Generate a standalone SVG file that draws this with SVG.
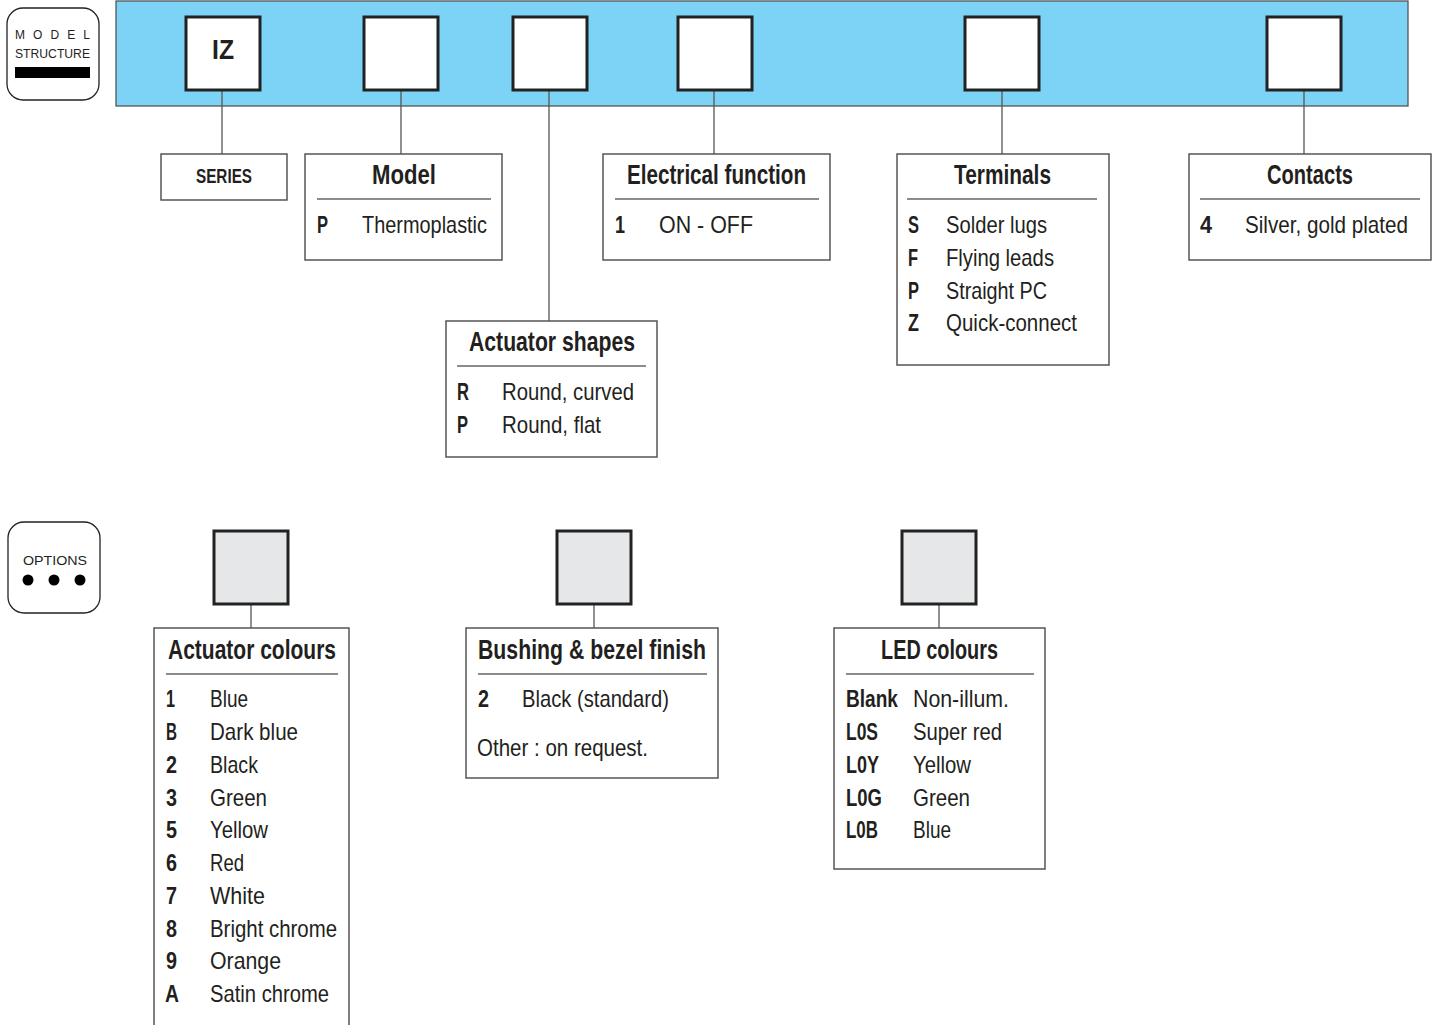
<svg xmlns="http://www.w3.org/2000/svg" width="1439" height="1025" viewBox="0 0 1439 1025">
<style>
.box{fill:#fff;stroke:#555;stroke-width:1.5}
.code{fill:#fff;stroke:#222;stroke-width:3}
.opt{fill:#e6e7e8;stroke:#222;stroke-width:3}
.conn{stroke:#555;stroke-width:1.3;fill:none}
.sep{stroke:#666;stroke-width:1.3}
.badge{fill:#fff;stroke:#222;stroke-width:1.3}
text{font-family:"Liberation Sans",Arial,sans-serif;fill:#231f20}
.h{font-size:27px;font-weight:bold;text-anchor:middle}
.k{font-size:23px;font-weight:bold}
.v{font-size:24px}
</style>
<rect width="1439" height="1025" fill="#fff"/>
<g id="badge-model">
<rect class="badge" x="7" y="8" width="92" height="92" rx="16"/>
<text x="15" y="39" font-size="12" textLength="75" lengthAdjust="spacing">MODEL</text>
<text x="15" y="58" font-size="13" textLength="75" lengthAdjust="spacingAndGlyphs">STRUCTURE</text>
<rect x="15" y="67" width="75" height="11" fill="#000"/>
</g>
<g id="band">
<rect x="116" y="1" width="1292" height="105" fill="#7dd3f5" stroke="#555" stroke-width="1.3"/>
</g>
<g id="connectors">
<line class="conn" x1="222" y1="90" x2="222" y2="154"/>
<line class="conn" x1="401" y1="90" x2="401" y2="154"/>
<line class="conn" x1="549" y1="90" x2="549" y2="321"/>
<line class="conn" x1="714" y1="90" x2="714" y2="154"/>
<line class="conn" x1="1002" y1="90" x2="1002" y2="154"/>
<line class="conn" x1="1304" y1="90" x2="1304" y2="154"/>
<line class="conn" x1="251" y1="604" x2="251" y2="628"/>
<line class="conn" x1="594" y1="604" x2="594" y2="628"/>
<line class="conn" x1="939" y1="604" x2="939" y2="628"/>
</g>
<g id="slot-iz"><rect class="code" x="186" y="17" width="74" height="73"/><text x="223" y="59" font-size="28" font-weight="bold" text-anchor="middle" textLength="22" lengthAdjust="spacingAndGlyphs">IZ</text></g>
<g id="slot-2"><rect class="code" x="364" y="17" width="74" height="73"/></g>
<g id="slot-3"><rect class="code" x="513" y="17" width="74" height="73"/></g>
<g id="slot-4"><rect class="code" x="678" y="17" width="74" height="73"/></g>
<g id="slot-5"><rect class="code" x="965" y="17" width="74" height="73"/></g>
<g id="slot-6"><rect class="code" x="1267" y="17" width="74" height="73"/></g>

<g id="series"><rect class="box" x="161" y="154" width="126" height="46"/><text x="224" y="183" font-size="21" font-weight="bold" text-anchor="middle" textLength="56" lengthAdjust="spacingAndGlyphs">SERIES</text></g>

<g id="model"><rect class="box" x="305" y="154" width="197" height="106"/>
<text class="h" x="404" y="184" textLength="64" lengthAdjust="spacingAndGlyphs">Model</text><line class="sep" x1="317" y1="199" x2="491" y2="199"/>
<text class="k" x="317" y="233" textLength="11" lengthAdjust="spacingAndGlyphs">P</text><text class="v" x="362" y="233" textLength="125" lengthAdjust="spacingAndGlyphs">Thermoplastic</text></g>

<g id="electrical"><rect class="box" x="603" y="154" width="227" height="106"/>
<text class="h" x="716.5" y="184" textLength="179" lengthAdjust="spacingAndGlyphs">Electrical function</text><line class="sep" x1="615" y1="199" x2="819" y2="199"/>
<text class="k" x="615" y="233" textLength="10" lengthAdjust="spacingAndGlyphs">1</text><text class="v" x="659" y="233" textLength="94" lengthAdjust="spacingAndGlyphs">ON - OFF</text></g>

<g id="terminals"><rect class="box" x="897" y="154" width="212" height="211"/>
<text class="h" x="1002.5" y="184" textLength="97" lengthAdjust="spacingAndGlyphs">Terminals</text><line class="sep" x1="907" y1="199" x2="1097" y2="199"/>
<text class="k" x="908" y="233" textLength="11" lengthAdjust="spacingAndGlyphs">S</text><text class="v" x="946" y="233" textLength="101" lengthAdjust="spacingAndGlyphs">Solder lugs</text>
<text class="k" x="908" y="266" textLength="10" lengthAdjust="spacingAndGlyphs">F</text><text class="v" x="946" y="266" textLength="108" lengthAdjust="spacingAndGlyphs">Flying leads</text>
<text class="k" x="908" y="299" textLength="11" lengthAdjust="spacingAndGlyphs">P</text><text class="v" x="946" y="299" textLength="101" lengthAdjust="spacingAndGlyphs">Straight PC</text>
<text class="k" x="908" y="331" textLength="11" lengthAdjust="spacingAndGlyphs">Z</text><text class="v" x="946" y="331" textLength="131" lengthAdjust="spacingAndGlyphs">Quick-connect</text></g>

<g id="contacts"><rect class="box" x="1189" y="154" width="242" height="106"/>
<text class="h" x="1310" y="184" textLength="86" lengthAdjust="spacingAndGlyphs">Contacts</text><line class="sep" x1="1200" y1="199" x2="1420" y2="199"/>
<text class="k" x="1200" y="233" textLength="12" lengthAdjust="spacingAndGlyphs">4</text><text class="v" x="1245" y="233" textLength="163" lengthAdjust="spacingAndGlyphs">Silver, gold plated</text></g>

<g id="actuator-shapes"><rect class="box" x="446" y="321" width="211" height="136"/>
<text class="h" x="552" y="351" textLength="166" lengthAdjust="spacingAndGlyphs">Actuator shapes</text><line class="sep" x1="457" y1="366" x2="646" y2="366"/>
<text class="k" x="457" y="400" textLength="12" lengthAdjust="spacingAndGlyphs">R</text><text class="v" x="502" y="400" textLength="132" lengthAdjust="spacingAndGlyphs">Round, curved</text>
<text class="k" x="457" y="433" textLength="11" lengthAdjust="spacingAndGlyphs">P</text><text class="v" x="502" y="433" textLength="99" lengthAdjust="spacingAndGlyphs">Round, flat</text></g>

<g id="badge-options">
<rect class="badge" x="8" y="522" width="92" height="91" rx="16"/>
<text x="23" y="565" font-size="13.5" textLength="64" lengthAdjust="spacingAndGlyphs">OPTIONS</text>
<circle cx="28" cy="580" r="5.5" fill="#000"/><circle cx="54" cy="580" r="5.5" fill="#000"/><circle cx="80" cy="580" r="5.5" fill="#000"/>
</g>
<g id="opt-1"><rect class="opt" x="214" y="531" width="74" height="73"/></g>
<g id="opt-2"><rect class="opt" x="557" y="531" width="74" height="73"/></g>
<g id="opt-3"><rect class="opt" x="902" y="531" width="74" height="73"/></g>

<g id="actuator-colours">
<path class="box" d="M154 1026 V628 H349 V1026"/>
<text class="h" x="252" y="659" textLength="168" lengthAdjust="spacingAndGlyphs">Actuator colours</text><line class="sep" x1="166" y1="674" x2="338" y2="674"/>
<text class="k" x="166" y="707" textLength="9" lengthAdjust="spacingAndGlyphs">1</text><text class="v" x="210" y="707" textLength="38" lengthAdjust="spacingAndGlyphs">Blue</text>
<text class="k" x="166" y="740" textLength="11" lengthAdjust="spacingAndGlyphs">B</text><text class="v" x="210" y="740" textLength="88" lengthAdjust="spacingAndGlyphs">Dark blue</text>
<text class="k" x="166" y="773" textLength="11" lengthAdjust="spacingAndGlyphs">2</text><text class="v" x="210" y="773" textLength="48" lengthAdjust="spacingAndGlyphs">Black</text>
<text class="k" x="166" y="806" textLength="11" lengthAdjust="spacingAndGlyphs">3</text><text class="v" x="210" y="806" textLength="57" lengthAdjust="spacingAndGlyphs">Green</text>
<text class="k" x="166" y="838" textLength="11" lengthAdjust="spacingAndGlyphs">5</text><text class="v" x="210" y="838" textLength="58" lengthAdjust="spacingAndGlyphs">Yellow</text>
<text class="k" x="166" y="871" textLength="11" lengthAdjust="spacingAndGlyphs">6</text><text class="v" x="210" y="871" textLength="34" lengthAdjust="spacingAndGlyphs">Red</text>
<text class="k" x="166" y="904" textLength="11" lengthAdjust="spacingAndGlyphs">7</text><text class="v" x="210" y="904" textLength="55" lengthAdjust="spacingAndGlyphs">White</text>
<text class="k" x="166" y="937" textLength="11" lengthAdjust="spacingAndGlyphs">8</text><text class="v" x="210" y="937" textLength="127" lengthAdjust="spacingAndGlyphs">Bright chrome</text>
<text class="k" x="166" y="969" textLength="11" lengthAdjust="spacingAndGlyphs">9</text><text class="v" x="210" y="969" textLength="71" lengthAdjust="spacingAndGlyphs">Orange</text>
<text class="k" x="165" y="1002" textLength="14" lengthAdjust="spacingAndGlyphs">A</text><text class="v" x="210" y="1002" textLength="119" lengthAdjust="spacingAndGlyphs">Satin chrome</text>
</g>

<g id="bushing"><rect class="box" x="466" y="628" width="252" height="150"/>
<text class="h" x="592" y="659" textLength="228" lengthAdjust="spacingAndGlyphs">Bushing &amp; bezel finish</text><line class="sep" x1="478" y1="674" x2="707" y2="674"/>
<text class="k" x="478" y="707" textLength="11" lengthAdjust="spacingAndGlyphs">2</text><text class="v" x="522" y="707" textLength="147" lengthAdjust="spacingAndGlyphs">Black (standard)</text>
<text class="v" x="477" y="756" textLength="171" lengthAdjust="spacingAndGlyphs">Other : on request.</text></g>

<g id="led"><rect class="box" x="834" y="628" width="211" height="241"/>
<text class="h" x="939.5" y="659" textLength="117" lengthAdjust="spacingAndGlyphs">LED colours</text><line class="sep" x1="846" y1="674" x2="1034" y2="674"/>
<text class="k" x="846" y="707" textLength="52" lengthAdjust="spacingAndGlyphs">Blank</text><text class="v" x="913" y="707" textLength="96" lengthAdjust="spacingAndGlyphs">Non-illum.</text>
<text class="k" x="846" y="740" textLength="32" lengthAdjust="spacingAndGlyphs">L0S</text><text class="v" x="913" y="740" textLength="89" lengthAdjust="spacingAndGlyphs">Super red</text>
<text class="k" x="846" y="773" textLength="33" lengthAdjust="spacingAndGlyphs">L0Y</text><text class="v" x="913" y="773" textLength="58" lengthAdjust="spacingAndGlyphs">Yellow</text>
<text class="k" x="846" y="806" textLength="36" lengthAdjust="spacingAndGlyphs">L0G</text><text class="v" x="913" y="806" textLength="57" lengthAdjust="spacingAndGlyphs">Green</text>
<text class="k" x="846" y="838" textLength="32" lengthAdjust="spacingAndGlyphs">L0B</text><text class="v" x="913" y="838" textLength="38" lengthAdjust="spacingAndGlyphs">Blue</text></g>
</svg>
